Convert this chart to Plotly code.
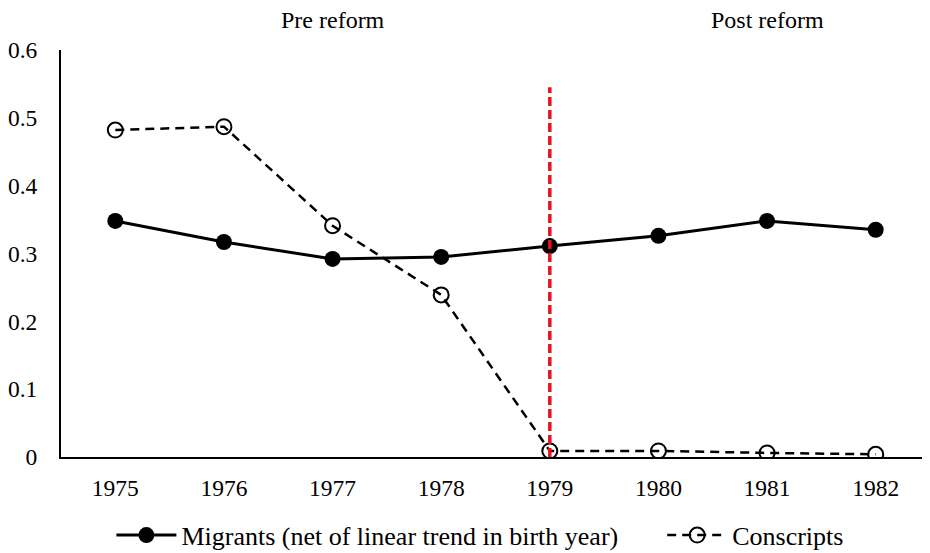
import plotly.graph_objects as go

years = ["1975", "1976", "1977", "1978", "1979", "1980", "1981", "1982"]
migrants = [0.348, 0.317, 0.292, 0.295, 0.311, 0.326, 0.348, 0.335]
conscripts = [0.482, 0.487, 0.341, 0.239, 0.009, 0.009, 0.006, 0.004]
reform_year = "1979"
reform_line_top = 0.545
y_ticks = [0, 0.1, 0.2, 0.3, 0.4, 0.5, 0.6]
y_tick_text = ["0", "0.1", "0.2", "0.3", "0.4", "0.5", "0.6"]
period_labels = [("1977", "Pre reform"), ("1981", "Post reform")]
series_names = ["Migrants (net of linear trend in birth year)", "Conscripts"]

FONT = "Liberation Serif, Times New Roman, serif"
TICK_FS = 23.5
ANN_FS = 24
LEG_FS = 26
LEGEND_PAD = "\u00a0" * 6

fig = go.Figure()
fig.add_trace(go.Scatter(
    x=years, y=migrants, mode="lines+markers",
    name=series_names[0] + LEGEND_PAD,
    line=dict(color="black", width=3),
    marker=dict(color="black", size=16, symbol="circle"),
))
fig.add_trace(go.Scatter(
    x=years, y=conscripts, mode="lines+markers",
    name=series_names[1],
    line=dict(color="black", width=2.5, dash="9px,6px"),
    marker=dict(color="black", size=15, symbol="circle-open", line=dict(width=2, color="black")),
))
fig.add_trace(go.Scatter(
    x=[reform_year, reform_year], y=[0, reform_line_top], mode="lines",
    line=dict(color="#e8141b", width=3.5, dash="9px,4px"),
    showlegend=False, hoverinfo="skip",
))
for yr, txt in period_labels:
    fig.add_annotation(x=years.index(yr), y=1.074, xref="x", yref="paper", text=txt,
                       showarrow=False, font=dict(family=FONT, size=ANN_FS, color="black"),
                       yanchor="middle")

fig.update_layout(
    width=930, height=553,
    margin=dict(l=53, r=8, t=42, b=104, autoexpand=False),
    paper_bgcolor="white", plot_bgcolor="white",
    font=dict(family=FONT, size=TICK_FS, color="black"),
    showlegend=True,
    legend=dict(orientation="h", x=0.058, xanchor="left", y=-0.192, yanchor="middle",
                font=dict(family=FONT, size=LEG_FS, color="black"), itemwidth=60,
                traceorder="normal", bgcolor="rgba(0,0,0,0)"),
)
fig.update_xaxes(type="category", range=[-0.5, 7.5], showgrid=False, showline=True,
                 linecolor="black", linewidth=2, ticks="", ticklabelstandoff=9,
                 zeroline=False, automargin=False,
                 tickfont=dict(family=FONT, size=TICK_FS, color="black"))
fig.update_yaxes(range=[0, 0.6], tickvals=y_ticks, ticktext=y_tick_text, showgrid=False,
                 showline=True, linecolor="black", linewidth=2, ticks="",
                 ticklabelstandoff=17, zeroline=False, automargin=False,
                 tickfont=dict(family=FONT, size=TICK_FS, color="black"))

fig.write_html("out.html")
